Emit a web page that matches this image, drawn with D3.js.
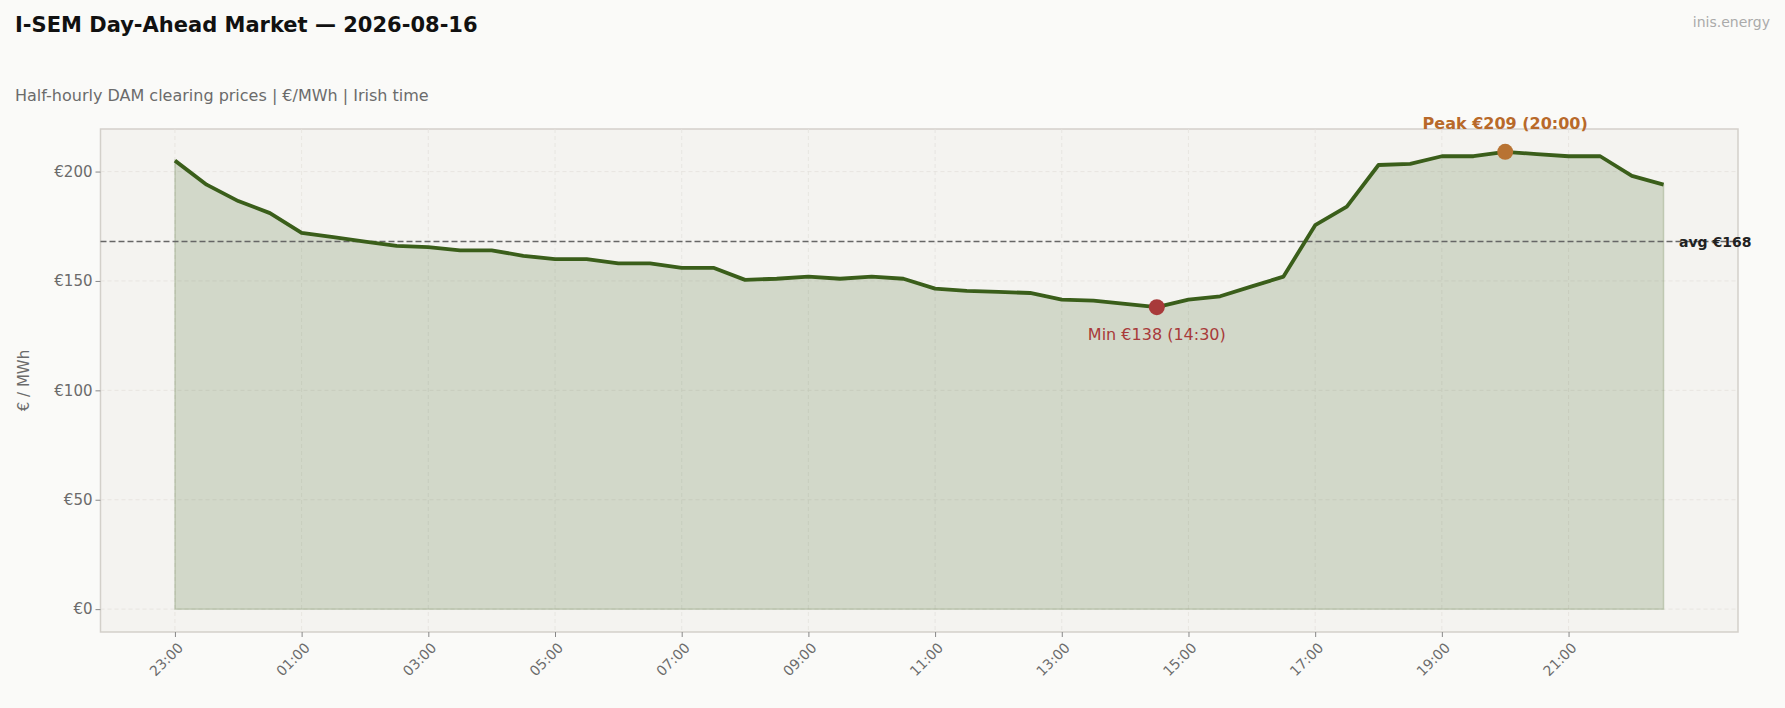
<!DOCTYPE html><html><head><meta charset="utf-8">
<script src="https://cdn.jsdelivr.net/npm/d3@7"></script>
<style>body{margin:0;background:#fafaf8;font-family:"DejaVu Sans",sans-serif}</style></head><body>
<svg id="c" width="1785" height="708"></svg>
<script>
const times=["23:00","23:30","00:00","00:30","01:00","01:30","02:00","02:30","03:00","03:30","04:00","04:30","05:00","05:30","06:00","06:30","07:00","07:30","08:00","08:30","09:00","09:30","10:00","10:30","11:00","11:30","12:00","12:30","13:00","13:30","14:00","14:30","15:00","15:30","16:00","16:30","17:00","17:30","18:00","18:30","19:00","19:30","20:00","20:30","21:00","21:30","22:00","22:30"];
const prices=[205,194,186.5,181,172,170,168,166,165.5,164,164,161.5,160,160,158,158,156,156,150.5,151,152,151,152,151,146.5,145.5,145,144.5,141.5,141,139.5,138,141.5,143,147.5,152,175.5,184,203,203.5,207,207,209,208,207,207,198,194];
const yTicks=[0,50,100,150,200];
const xTickLabels=["23:00","01:00","03:00","05:00","07:00","09:00","11:00","13:00","15:00","17:00","19:00","21:00"];
const avgPrice=168;

const svg=d3.select("#c");
const L=100.5,R=1738,T=129,B=632;
const x=d3.scaleLinear().domain([-1.175,24.675]).range([L,R]);
const y=d3.scaleLinear().domain([-10.45,219.45]).range([B,T]);
const data=prices.map((p,i)=>({h:i/2,p,t:times[i]}));
svg.append("rect").attr("x",L).attr("y",T).attr("width",R-L).attr("height",B-T).attr("fill","#f4f3f0").attr("stroke","#d3d0ca").attr("stroke-width",1.5);
const g=svg.append("g");
yTicks.forEach(v=>{g.append("line").attr("x1",L).attr("x2",R).attr("y1",y(v)).attr("y2",y(v)).attr("stroke","#e4e2dd").attr("stroke-dasharray","4,3").attr("stroke-width",0.8);});
const xTickVals=xTickLabels.map(l=>times.indexOf(l)/2);
xTickVals.forEach(v=>{g.append("line").attr("y1",T).attr("y2",B).attr("x1",x(v)).attr("x2",x(v)).attr("stroke","#e4e2dd").attr("stroke-dasharray","4,3").attr("stroke-width",0.8);});
svg.append("path").datum(data).attr("d",d3.area().x(d=>x(d.h)).y0(y(0)).y1(d=>y(d.p))).attr("fill","rgba(58,94,26,0.18)").attr("stroke","rgba(58,94,26,0.2)").attr("stroke-width",1.5);
svg.append("line").attr("x1",L).attr("x2",R).attr("y1",y(avgPrice)).attr("y2",y(avgPrice)).attr("stroke","#666").attr("stroke-width",1.5).attr("stroke-dasharray","6,3");
svg.append("path").datum(data).attr("d",d3.line().x(d=>x(d.h)).y(d=>y(d.p))).attr("fill","none").attr("stroke","#3a5e1a").attr("stroke-width",3.8).attr("stroke-linejoin","round");
const ya=d3.axisLeft(y).tickValues(yTicks).tickFormat(d=>"€"+d).tickSize(5);
const ay=svg.append("g").attr("transform",`translate(${L},0)`).call(ya);
ay.select(".domain").remove();
ay.selectAll("line").attr("stroke","#888");
ay.selectAll("text").attr("fill","#6b6b6b").attr("font-size",15).attr("font-family","DejaVu Sans");
const xa=d3.axisBottom(x).tickValues(xTickVals).tickFormat((d,i)=>xTickLabels[i]).tickSize(5);
const ax=svg.append("g").attr("transform",`translate(0,${B})`).call(xa);
ax.select(".domain").remove();
ax.selectAll("line").attr("stroke","#888");
ax.selectAll("text").attr("fill","#6b6b6b").attr("font-size",14).attr("font-family","DejaVu Sans").attr("text-anchor","end").attr("transform","translate(-4,4) rotate(-45)").attr("dy","0.7em");
const mn=data[d3.minIndex(data,d=>d.p)], mx=data[d3.maxIndex(data,d=>d.p)];
svg.append("circle").attr("cx",x(mx.h)).attr("cy",y(mx.p)).attr("r",8).attr("fill","#b87333");
svg.append("circle").attr("cx",x(mn.h)).attr("cy",y(mn.p)).attr("r",8).attr("fill","#a83a3a");
svg.append("text").attr("x",x(mx.h)).attr("y",129).attr("text-anchor","middle").attr("fill","#b8692a").attr("font-weight","bold").attr("font-size",16).text(`Peak  €${Math.round(mx.p)}  (${mx.t})`);
svg.append("text").attr("x",x(mn.h)).attr("y",340).attr("text-anchor","middle").attr("fill","#a83a3a").attr("font-size",16).text(`Min  €${Math.round(mn.p)}  (${mn.t})`);
svg.append("text").attr("x",1679).attr("y",y(avgPrice)+5).attr("fill","#222").attr("font-weight","bold").attr("font-size",14).text(`avg €${avgPrice}`);
svg.append("text").attr("x",15).attr("y",32).attr("font-weight","bold").attr("font-size",21).attr("fill","#111").text("I-SEM Day-Ahead Market — 2026-08-16");
svg.append("text").attr("x",15).attr("y",101).attr("font-size",16).attr("fill","#6b6b6b").text("Half-hourly DAM clearing prices  |  €/MWh  |  Irish time");
svg.append("text").attr("x",1770).attr("y",27).attr("text-anchor","end").attr("font-size",14).attr("fill","#aaa").text("inis.energy");
svg.append("text").attr("transform",`translate(29,${(T+B)/2}) rotate(-90)`).attr("text-anchor","middle").attr("font-size",15).attr("fill","#6b6b6b").text("€ / MWh");
</script></body></html>
